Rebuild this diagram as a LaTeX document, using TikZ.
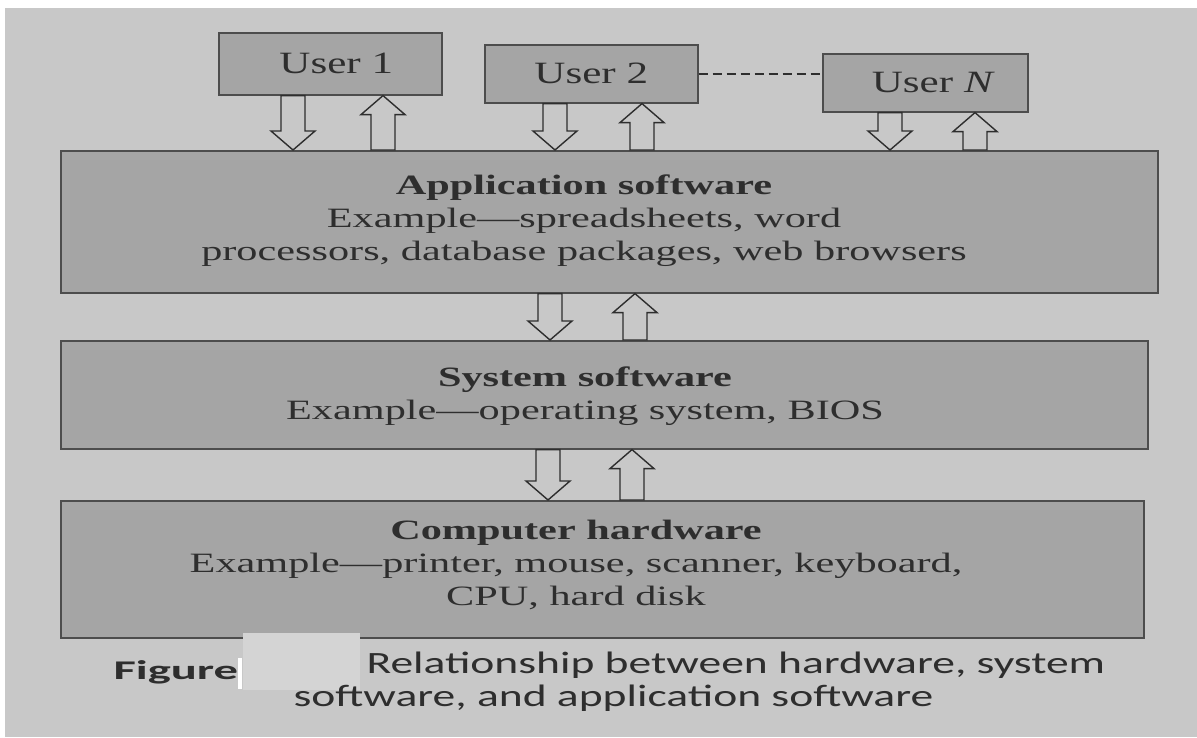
\documentclass[tikz,border=0pt]{standalone}
\usepackage{fontspec}
\setmainfont{Liberation Serif}
\newfontfamily\bookfont[FakeStretch=1.51]{Liberation Serif}
\newfontfamily\userfont[FakeStretch=1.39]{Liberation Serif}
\newfontfamily\capfont[FakeStretch=1.47]{Carlito}
\newfontfamily\figfont[FakeStretch=1.8]{Carlito}
\usetikzlibrary{calc}
\definecolor{paper}{HTML}{C8C8C8}
\definecolor{boxfill}{HTML}{A5A5A5}
\definecolor{ink}{HTML}{2E2E2E}
\definecolor{patch}{HTML}{D4D4D4}
\tikzset{
  layer/.style={draw=ink!85, line width=1.6pt, fill=boxfill, anchor=north west, inner sep=0pt},
  userbox/.style={draw=ink!85, line width=1.6pt, fill=boxfill, anchor=north west, inner sep=0pt},
  label/.style={text=ink, align=center, font=\bookfont\fontsize{28}{33}\selectfont},
  ulabel/.style={text=ink, font=\userfont\fontsize{31}{36}\selectfont},
  blockarrow/.style={draw=ink, line width=1.4pt, fill=paper, line join=miter},
  linkline/.style={draw=ink, line width=1.6pt, dash pattern=on 9pt off 5pt},
  caption/.style={anchor=base west, text=ink, font=\capfont\fontsize{31}{34}\selectfont},
}
% hollow block arrows between two stacked nodes, at a given x
\newcommand\flowdown[3]{%
  \draw[blockarrow] let \p1=(#1.south), \p2=(#2.north) in
    (#3-12pt,\y1) -- (#3+12pt,\y1) -- (#3+12pt,\y2+19pt) -- (#3+22pt,\y2+19pt)
    -- (#3,\y2) -- (#3-22pt,\y2+19pt) -- (#3-12pt,\y2+19pt) -- cycle;}
\newcommand\flowup[3]{%
  \draw[blockarrow] let \p1=(#1.south), \p2=(#2.north) in
    (#3-12pt,\y2) -- (#3+12pt,\y2) -- (#3+12pt,\y1-19pt) -- (#3+22pt,\y1-19pt)
    -- (#3,\y1) -- (#3-22pt,\y1-19pt) -- (#3-12pt,\y1-19pt) -- cycle;}
\begin{document}
\begin{tikzpicture}
\useasboundingbox (0pt,0pt) rectangle (1197pt,-737pt);
\fill[white] (0pt,0pt) rectangle (1197pt,-737pt);
\fill[paper] (5pt,-8pt) rectangle (1197pt,-737pt);

% users
\node[userbox, minimum width=223pt, minimum height=62pt] (u1) at (218pt,-32pt) {};
\node[userbox, minimum width=213pt, minimum height=58pt] (u2) at (484pt,-44pt) {};
\node[userbox, minimum width=205pt, minimum height=58pt] (un) at (822pt,-53pt) {};
\node[ulabel] (u1t) at ([xshift=6pt]u1.center) {User 1};
\node[ulabel] (u2t) at (u2.center) {User 2};
\node[ulabel] (unt) at ([xshift=8pt]un.center) {User \textit{N}};
\draw[linkline] (u2.east) -- (un.west |- u2.east);

% software / hardware layers
\node[layer, minimum width=1097pt, minimum height=142pt] (app) at (60pt,-150pt) {};
\node[layer, minimum width=1087pt, minimum height=108pt] (sys) at (60pt,-340pt) {};
\node[layer, minimum width=1083pt, minimum height=137pt] (hw)  at (60pt,-500pt) {};

\node[label] (appt) at (584pt,-221pt)
  {\textbf{Application software}\\Example—spreadsheets, word\\processors, database packages, web browsers};
\node[label] (syst) at (585pt,-396pt)
  {\textbf{System software}\\Example—operating system, BIOS};
\node[label] (hwt) at (576pt,-565pt)
  {\textbf{Computer hardware}\\Example—printer, mouse, scanner, keyboard,\\CPU, hard disk};

% data flow between levels
\flowdown{u1}{app}{293pt}
\flowup{u1}{app}{383pt}
\flowdown{u2}{app}{555pt}
\flowup{u2}{app}{642pt}
\flowdown{un}{app}{890pt}
\flowup{un}{app}{975pt}
\flowdown{app}{sys}{550pt}
\flowup{app}{sys}{635pt}
\flowdown{sys}{hw}{548pt}
\flowup{sys}{hw}{632pt}

% caption
\fill[patch] (243pt,-633pt) rectangle (360pt,-690pt);
\fill[white] (238pt,-658pt) rectangle (242pt,-689pt);
\node[anchor=base west, text=ink, font=\figfont\bfseries\fontsize{27}{30}\selectfont] (fig) at (110pt,-679pt) {Figure};
\node[caption] (cap1) at (363pt,-673pt) {Relationship between hardware, system};
\node[caption] (cap2) at (290pt,-706pt) {software, and application software};
\end{tikzpicture}
\end{document}
